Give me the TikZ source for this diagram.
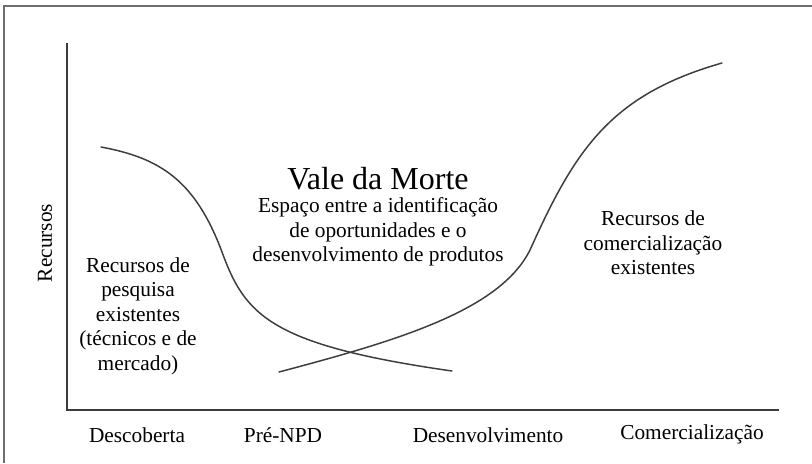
\documentclass[tikz,border=0pt]{standalone}
\usepackage{fontspec}
\setmainfont{Liberation Serif}
\usepackage{xcolor}
\usepackage{tikz}
\definecolor{framegray}{RGB}{110,110,110}
\definecolor{linegray}{RGB}{60,60,60}
\tikzset{
    txt/.style={align=center, inner sep=0pt, font=\fontsize{16}{18.4}\selectfont},
    bigtxt/.style={inner sep=0pt, font=\fontsize{24}{28}\selectfont},
    curve/.style={linegray, line width=1.1pt, line cap=round}
}
\begin{document}
\begin{tikzpicture}[x=0.75pt,y=-0.75pt]
        \useasboundingbox (0,0) rectangle (812,463);
        \draw[framegray, line width=0.9pt] (4,463) -- (4,6) -- (812,6);

        \coordinate (ytop) at (67,43);
        \coordinate (origin) at (67,410);
        \coordinate (xend) at (779,410);
        \draw[linegray, line width=1pt] (ytop) -- (origin) -- (xend);

        \draw[curve] (101,147) .. controls (160,158) and (195,180) .. (222,252)
                     .. controls (245,315) and (270,345) .. (452,371);
        \draw[curve] (279,372) .. controls (400,340) and (500,310) .. (530,250)
                     .. controls (575,150) and (610,95) .. (722,63);

        \node[txt, rotate=90] (recursos) at (45,243) {Recursos};
        \node[txt] (pesquisa) at (138,316) {Recursos de\\pesquisa\\existentes\\(técnicos e de\\mercado)};
        \node[bigtxt] (vale) at (378,179) {Vale da Morte};
        \node[txt] (espaco) at (378,232) {Espaço entre a identificação\\de oportunidades e o\\desenvolvimento de produtos};
        \node[txt] (comerc) at (653,243) {Recursos de\\comercialização\\existentes};

        \node[txt] (descoberta) at (137,435) {Descoberta};
        \node[txt] (prenpd) at (283,435) {Pré-NPD};
        \node[txt] (desenv) at (488,435) {Desenvolvimento};
        \node[txt] (comercializacao) at (692,434) {Comercialização};
    \end{tikzpicture}
\end{document}
